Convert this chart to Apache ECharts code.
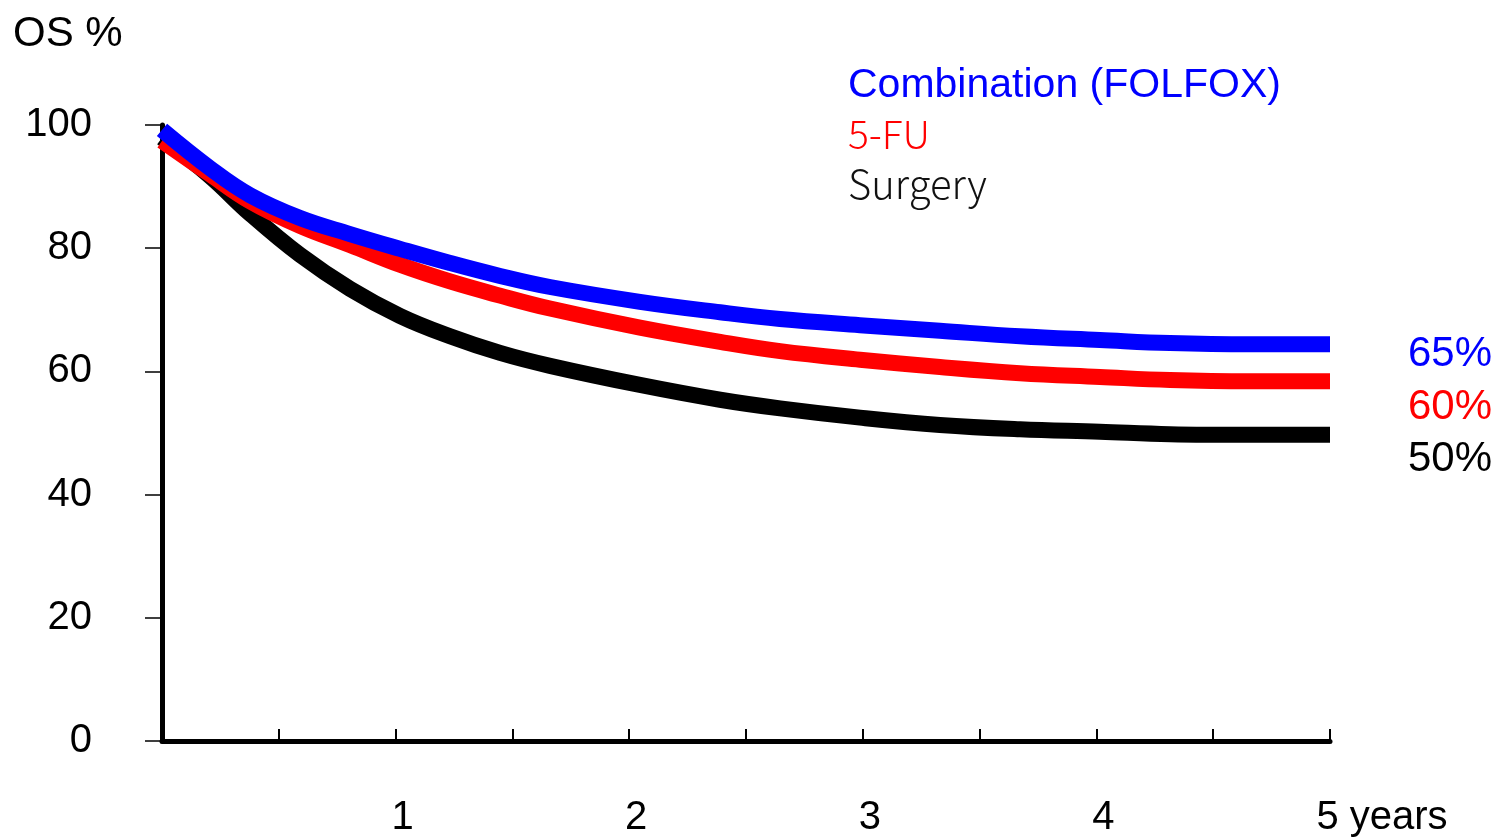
<!DOCTYPE html>
<html>
<head>
<meta charset="utf-8">
<script src="https://cdn.jsdelivr.net/npm/echarts@6/dist/echarts.min.js"></script>
<style>
html,body{margin:0;padding:0;background:#fff;}
#chart{width:1498px;height:839px;}
</style>
</head>
<body>
<div id="chart"></div>
<script>
// Time in years
const years = [0, 0.205, 0.377, 0.591, 0.805, 1.019, 1.233, 1.447, 1.661, 2.046, 2.389, 2.646, 2.988, 3.330, 3.673, 4.015, 4.315, 4.658, 5.0];
// Overall survival (%)
const folfox  = [99.2, 93.0, 88.6, 84.9, 82.3, 79.9, 77.6, 75.5, 73.7, 71.3, 69.6, 68.5, 67.5, 66.6, 65.7, 65.1, 64.6, 64.4, 64.4];
const fu5     = [97.4, 92.0, 87.6, 83.6, 80.5, 77.3, 74.6, 72.3, 70.2, 67.1, 64.8, 63.3, 61.9, 60.7, 59.7, 59.1, 58.6, 58.4, 58.4];
const surgery = [97.9, 91.7, 85.6, 78.9, 73.4, 69.0, 65.7, 63.0, 60.9, 57.8, 55.4, 54.0, 52.5, 51.3, 50.6, 50.2, 49.8, 49.7, 49.7];

const seriesNames = ['Combination (FOLFOX)', '5-FU', 'Surgery'];
const endLabels = ['65%', '60%', '50%'];
const yAxisTitle = 'OS %';
const lastTickLabel = '5 years';

const chart = echarts.init(document.getElementById('chart'), null, {renderer: 'canvas'});

const toPts = arr => years.map((x, i) => [x, arr[i]]);

function mkSeries(name, arr, color, z) {
  return {
    name: name, type: 'line', data: toPts(arr), showSymbol: false, symbol: 'none',
    smooth: 0.4, z: z,
    lineStyle: {color: color, width: 16, cap: 'butt', join: 'round'},
    itemStyle: {color: color}
  };
}

const option = {
  backgroundColor: '#ffffff',
  animation: false,
  grid: {left: 162, right: 168, top: 125, bottom: 98, containLabel: false},
  xAxis: {
    type: 'value', min: 0, max: 5, interval: 0.5,
    axisLine: {show: true, lineStyle: {color: '#000', width: 5}},
    axisTick: {show: true, inside: true, length: 12, lineStyle: {color: '#000', width: 2}},
    splitLine: {show: false},
    axisLabel: {
      show: true, margin: 57, color: '#000', fontSize: 40, fontFamily: 'Liberation Sans',
      padding: [0, 0, 0, 14],
      showMinLabel: true, showMaxLabel: true,
      formatter: function (v) {
        if (v === 5) return '{n|' + lastTickLabel + '}';
        if (v === 0 || Math.abs(v - Math.round(v)) > 1e-6) return '';
        return String(Math.round(v));
      },
      rich: {
        n: {fontSize: 40, fontFamily: 'Liberation Sans', color: '#000', padding: [0, 0, 0, 90]}
      }
    }
  },
  yAxis: {
    type: 'value', min: 0, max: 100, interval: 20,
    axisLine: {show: true, lineStyle: {color: '#000', width: 5}},
    axisTick: {show: true, inside: false, length: 17, lineStyle: {color: '#000', width: 1.5}},
    splitLine: {show: false},
    axisLabel: {margin: 70, color: '#000', fontSize: 40, fontFamily: 'Liberation Sans'}
  },
  series: [
    mkSeries(seriesNames[2], surgery, '#000000', 2),
    mkSeries(seriesNames[1], fu5, '#ff0000', 3),
    mkSeries(seriesNames[0], folfox, '#0000ff', 4)
  ],
  graphic: [
    {type: 'text', left: 13, top: 13, z: 10,
      style: {text: yAxisTitle, fontSize: 42, fontFamily: 'Liberation Sans', fill: '#000'}},
    {type: 'text', x: 848, y: 86, z: 10,
      style: {text: seriesNames[0], fontSize: 41, fontFamily: 'Liberation Sans', fill: '#0000ff', verticalAlign: 'middle', align: 'left'}},
    {type: 'text', x: 848, y: 134, z: 10,
      style: {text: seriesNames[1], fontSize: 39, fontFamily: 'Noto Sans CJK SC', fontWeight: 300, fill: '#ff0000', verticalAlign: 'middle', align: 'left'}},
    {type: 'text', x: 848, y: 184, z: 10,
      style: {text: seriesNames[2], fontSize: 40, fontFamily: 'Noto Sans CJK SC', fontWeight: 300, fill: '#111', verticalAlign: 'middle', align: 'left'}},
    {type: 'text', x: 1492, y: 354, z: 10,
      style: {text: endLabels[0], fontSize: 42, fontFamily: 'Liberation Sans', fill: '#0000ff', verticalAlign: 'middle', align: 'right'}},
    {type: 'text', x: 1492, y: 407, z: 10,
      style: {text: endLabels[1], fontSize: 42, fontFamily: 'Liberation Sans', fill: '#ff0000', verticalAlign: 'middle', align: 'right'}},
    {type: 'text', x: 1492, y: 459, z: 10,
      style: {text: endLabels[2], fontSize: 42, fontFamily: 'Liberation Sans', fill: '#000', verticalAlign: 'middle', align: 'right'}}
  ]
};
chart.setOption(option);
</script>
</body>
</html>
